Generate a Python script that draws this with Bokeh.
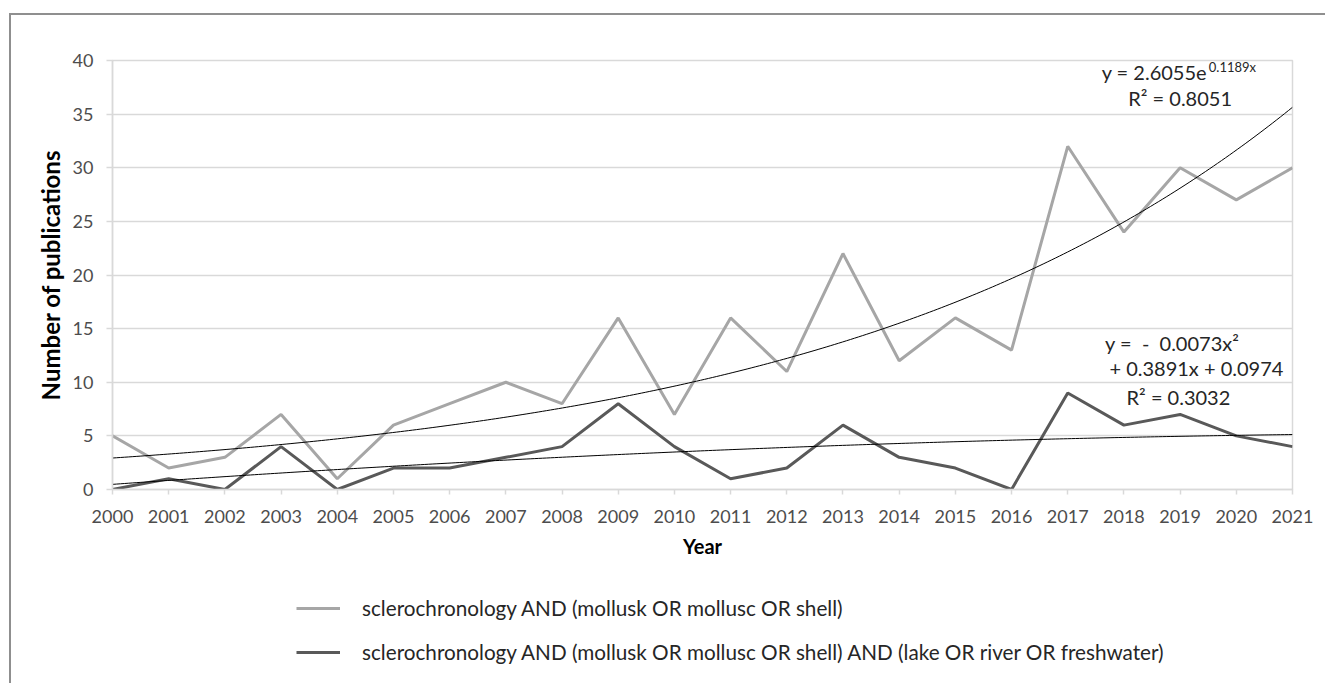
import numpy as np
from bokeh.plotting import figure
from bokeh.layouts import column
from bokeh.models import Range1d, FixedTicker, Label, Legend, LegendItem, ColumnDataSource
from bokeh.embed import file_html
from bokeh.resources import INLINE

# Publications per year
years = list(range(2000, 2022))
all_shell = [5, 2, 3, 7, 1, 6, 8, 10, 8, 16, 7, 16, 11, 22, 12, 16, 13, 32, 24, 30, 27, 30]
freshwater = [0, 1, 0, 4, 0, 2, 2, 3, 4, 8, 4, 1, 2, 6, 3, 2, 0, 9, 6, 7, 5, 4]

# Trend line coefficients (x = 1 for the year 2000)
exp_a, exp_b = 2.6055, 0.1189
poly_a, poly_b, poly_c = -0.0073, 0.3891, 0.0974

label_all = "sclerochronology AND (mollusk OR mollusc OR shell)"
label_fw = "sclerochronology AND (mollusk OR mollusc OR shell) AND (lake OR river OR freshwater)"

FONT = "Lato"
TXT = "#4d4d4d"
GRID = "#d9d9d9"
LIGHT = "#a6a6a6"
DARK = "#595959"
NB = "\u00a0"

p = figure(width=1314, height=549, output_backend="svg", toolbar_location=None,
           x_range=Range1d(2000, 2021), y_range=Range1d(0, 40),
           min_border_left=101, min_border_top=45, min_border_right=33,
           min_border_bottom=75)
p.outline_line_color = GRID
p.outline_line_width = 1.5

# axes
p.xaxis.ticker = FixedTicker(ticks=years)
p.yaxis.ticker = FixedTicker(ticks=list(range(0, 41, 5)))
for ax in (p.xaxis[0], p.yaxis[0]):
    ax.axis_line_color = GRID
    ax.axis_line_width = 1.5
    ax.major_tick_line_color = GRID
    ax.major_tick_line_width = 1.5
    ax.major_tick_in = 0
    ax.minor_tick_line_color = None
    ax.major_label_text_font = FONT
    ax.major_label_text_font_size = "18px"
    ax.major_label_text_color = TXT
    ax.axis_label_text_font = FONT
    ax.axis_label_text_font_style = "bold"
    ax.axis_label_text_color = "#000000"
p.xaxis.major_tick_out = 5
p.yaxis.major_tick_out = 6
p.xaxis.major_label_standoff = 15
p.yaxis.major_label_standoff = 13
p.xaxis.axis_label = "Year"
p.yaxis.axis_label = "Number of publications"
p.xaxis.axis_label_text_font_size = "20px"
p.yaxis.axis_label_text_font_size = "24px"
p.xaxis.axis_label_standoff = 8
p.yaxis.axis_label_standoff = 5

p.xgrid.grid_line_color = None
p.ygrid.grid_line_color = GRID
p.ygrid.grid_line_width = 1.5

src = ColumnDataSource(dict(year=years, all_shell=all_shell, freshwater=freshwater))
p.line("year", "all_shell", source=src, line_color=LIGHT, line_width=3)
p.line("year", "freshwater", source=src, line_color=DARK, line_width=3)

# fitted trend curves
xs = np.linspace(1, len(years), 300)
p.line(xs + 1999, exp_a * np.exp(exp_b * xs), line_color="#000000", line_width=1)
p.line(xs + 1999, poly_a * xs ** 2 + poly_b * xs + poly_c, line_color="#000000", line_width=1)

# trend equations
def lab(x, y, text, size="20px", align="center", y_off=0):
    p.add_layout(Label(x=x, y=y, text=text, text_font=FONT, text_font_size=size,
                       text_color="#262626", text_align=align, text_baseline="middle",
                       y_offset=y_off))

lab(2019.48, 38.9, "y = 2.6055e", align="right")
lab(2019.51, 38.9, "0.1189x", size="13px", align="left", y_off=5)
lab(2019.0, 36.5, "R² = 0.8051")
lab(2018.86, 13.7, f"y ={NB}{NB}-{NB}{NB}0.0073x²")
lab(2019.29, 11.3, "+ 0.3891x + 0.0974")
lab(2018.97, 8.6, "R² = 0.3032")

# legend strip underneath the chart; its ranges leave the series lines out of view,
# so only the legend keys show
leg = figure(width=1314, height=119, output_backend="svg", toolbar_location=None,
             x_axis_type=None, y_axis_type=None, min_border=0,
             x_range=Range1d(0, 1), y_range=Range1d(0, 1))
leg.outline_line_color = None
leg.grid.visible = False
k_all = leg.line("year", "all_shell", source=src, line_color=LIGHT, line_width=3)
k_fw = leg.line("year", "freshwater", source=src, line_color=DARK, line_width=3)
legend = Legend(items=[LegendItem(label=label_all, renderers=[k_all]),
                       LegendItem(label=label_fw, renderers=[k_fw])],
                location=(184, 19), orientation="vertical",
                glyph_width=44, glyph_height=20, label_height=20, spacing=20,
                label_standoff=22, padding=0, margin=0,
                border_line_color=None, background_fill_alpha=0,
                label_text_font=FONT, label_text_font_size="20.7px",
                label_text_color="#262626", label_text_baseline="middle")
leg.add_layout(legend, "center")

page = column(p, leg, spacing=0, margin=(13, 0, 0, 9),
              styles={"border-top": "2px solid #8f8f8f", "border-left": "2px solid #8f8f8f"})

open("out.html", "w").write(file_html(page, INLINE))
